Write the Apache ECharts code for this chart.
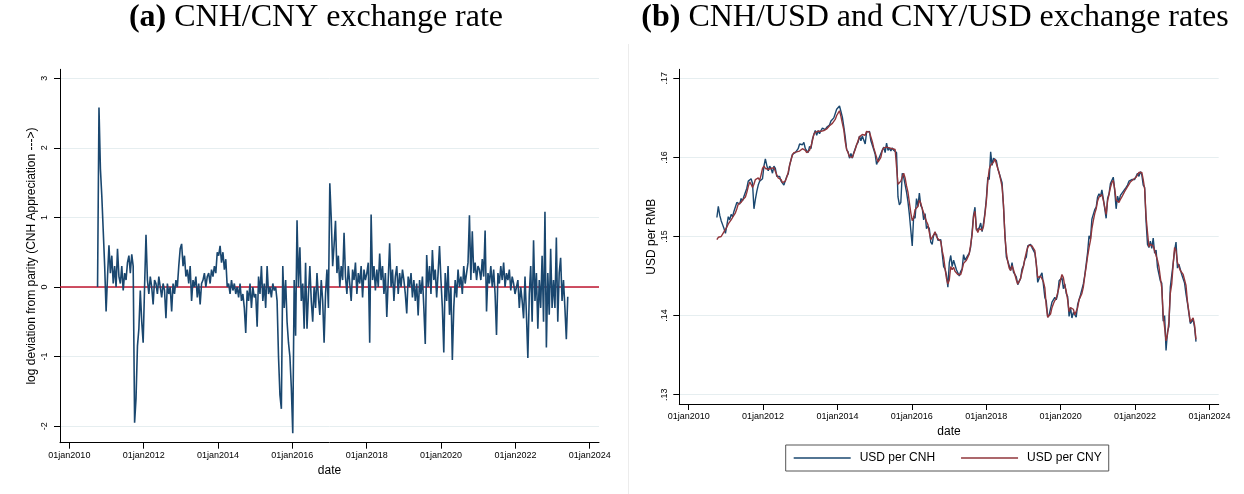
<!DOCTYPE html>
<html><head><meta charset="utf-8">
<script src="https://cdn.jsdelivr.net/npm/echarts@6/dist/echarts.min.js"></script>
<style>html,body{margin:0;padding:0;background:#fff}#c{width:1244px;height:494px}</style>
</head><body><div id="c"></div>
<script>
// ---- data ----
const startDate = [2010, 9, 5];   // first observation (UTC y, m0, d)
const stepDays = 14;              // sampling step of the series below
const xTickYears = [2010, 2012, 2014, 2016, 2018, 2020, 2022, 2024];
const devTicks = [-2, -1, 0, 1, 2, 3];
const usdTicks = [0.13, 0.14, 0.15, 0.16, 0.17];
const parityLevel = [0, 0];       // y = 0 reference line (parity)
const seriesNames = ['USD per CNH', 'USD per CNY'];

// (a) log deviation from parity, CNH vs CNY (x100)
const cnhCnyDev = [
0.0,2.58,1.7,1.3,0.8,0.3,-0.35,
0.15,0.6,0.2,0.45,0.05,0.3,0.0,0.55,0.15,0.05,0.3,-0.05,0.2,0.1,0.35,0.45,0.2,0.47,0.3,-1.95,-1.6,-0.85,-0.6,-0.05,-0.5,-0.8,
0.0,0.75,0.1,-0.1,0.15,0.0,-0.25,0.1,0.05,-0.1,0.15,0.0,-0.15,0.05,-0.05,-0.45,0.05,-0.1,0.0,-0.35,0.05,-0.1,0.1,0.0,0.3,0.55,
0.62,0.3,0.45,0.15,0.25,0.05,0.3,-0.2,0.1,0.0,0.15,-0.15,0.05,-0.25,0.05,0.1,0.2,0.0,0.15,0.2,0.05,0.25,0.15,0.3,0.2,0.5,
0.45,0.59,0.35,0.5,0.25,0.4,0.0,0.05,-0.1,0.1,-0.05,0.05,-0.1,0.0,-0.15,0.05,-0.2,-0.1,-0.3,-0.66,-0.05,-0.2,0.05,-0.3,0.0,-0.15,
-0.1,-0.57,0.15,-0.1,0.3,-0.2,0.05,-0.3,0.3,-0.1,0.0,-0.15,0.05,-0.05,0.0,-0.2,-1.0,-1.55,-1.75,0.3,-0.3,0.1,-0.5,-0.8,-1.0,-1.45,
-2.1,0.1,-0.7,0.96,0.0,0.57,-0.2,0.05,-0.6,0.35,-0.6,-0.1,0.3,-0.2,-0.5,0.0,-0.3,0.2,-0.15,-0.4,0.1,-0.2,-0.8,-0.1,0.25,-0.3,
1.49,0.99,0.3,0.6,0.95,0.2,0.45,0.0,0.3,0.1,0.78,0.15,-0.1,0.3,0.05,-0.2,0.25,0.1,0.35,-0.1,0.2,0.05,0.3,-0.15,0.25,0.1,
0.2,0.35,-0.8,1.04,0.1,0.3,-0.05,0.25,0.0,0.48,0.1,0.3,-0.1,0.2,-0.43,0.1,0.63,0.0,0.25,-0.2,0.15,0.3,-0.1,0.2,0.0,0.25,
0.1,-0.1,-0.38,0.15,0.0,0.2,-0.15,0.1,-0.2,0.05,-0.41,0.1,-0.1,0.15,-0.3,-0.82,0.46,0.0,0.3,-0.1,0.53,0.1,0.25,-0.15,0.2,0.59,
0.1,-0.3,-0.94,0.2,-0.2,0.3,-0.4,0.0,-1.05,-0.3,0.1,-0.15,0.25,0.0,0.15,-0.1,0.3,0.05,0.2,0.35,1.03,0.1,0.8,0.2,0.35,0.1,0.3,
0.25,0.1,0.4,0.15,0.81,-0.35,0.2,0.05,0.3,0.0,0.25,-0.1,-0.69,0.2,0.05,0.3,0.1,0.35,0.0,0.2,0.1,0.25,-0.05,0.15,0.05,-0.1,
-0.1,0.1,-0.3,0.0,-0.2,-0.45,0.15,-0.4,-1.02,-0.1,0.3,-0.5,0.67,-0.2,0.2,-0.6,0.1,-0.3,0.45,-0.5,1.08,-0.87,0.2,-0.4,0.55,-0.3,
0.1,-0.3,0.71,-0.5,0.2,0.42,-0.2,0.1,-0.3,-0.75,-0.14
];

// (b) USD per CNH
const usdPerCnh = [
0.1524,0.1538,0.1527,0.1520,0.1515,0.1510,0.1504,
0.1514,0.1525,0.1521,0.1528,0.1525,0.1532,0.1530,0.1543,0.1543,0.1541,0.1548,0.1545,0.1551,0.1552,0.1561,0.1570,0.1572,0.1573,0.1567,0.1535,0.1547,0.1557,0.1565,0.1570,0.1570,0.1573,
0.1589,0.1598,0.1590,0.1583,0.1589,0.1586,0.1580,0.1589,0.1586,0.1576,0.1576,0.1576,0.1570,0.1569,0.1565,0.1563,0.1576,0.1579,0.1590,0.1591,0.1604,0.1604,0.1606,0.1607,0.1611,0.1617,
0.1619,0.1616,0.1619,0.1611,0.1610,0.1606,0.1614,0.1611,0.1623,0.1629,0.1634,0.1628,0.1634,0.1630,0.1634,0.1637,0.1637,0.1635,0.1638,0.1640,0.1641,0.1646,0.1645,0.1650,0.1651,0.1661,
0.1663,0.1665,0.1658,0.1651,0.1639,0.1626,0.1610,0.1607,0.1599,0.1605,0.1599,0.1606,0.1608,0.1616,0.1619,0.1627,0.1621,0.1627,0.1625,0.1617,0.1632,0.1632,0.1633,0.1621,0.1620,0.1610,
0.1604,0.1591,0.1596,0.1594,0.1605,0.1606,0.1613,0.1606,0.1618,0.1609,0.1612,0.1608,0.1612,0.1609,0.1610,0.1606,0.1550,0.1540,0.1543,0.1580,0.1575,0.1576,0.1556,0.1544,0.1528,0.1508,
0.1488,0.1526,0.1523,0.1548,0.1538,0.1555,0.1539,0.1536,0.1521,0.1529,0.1510,0.1513,0.1510,0.1493,0.1490,0.1502,0.1501,0.1503,0.1495,0.1493,0.1496,0.1479,0.1462,0.1459,0.1451,0.1436,
0.1467,0.1476,0.1462,0.1470,0.1470,0.1458,0.1459,0.1450,0.1456,0.1459,0.1477,0.1470,0.1469,0.1476,0.1479,0.1487,0.1506,0.1527,0.1537,0.1508,0.1508,0.1511,0.1517,0.1506,0.1517,0.1530,
0.1548,0.1575,0.1572,0.1607,0.1590,0.1599,0.1597,0.1596,0.1586,0.1588,0.1574,0.1568,0.1538,0.1503,0.1474,0.1469,0.1469,0.1457,0.1467,0.1455,0.1454,0.1449,0.1439,0.1441,0.1447,0.1459,
0.1463,0.1471,0.1474,0.1488,0.1489,0.1490,0.1486,0.1486,0.1479,0.1466,0.1442,0.1447,0.1449,0.1454,0.1439,0.1423,0.1418,0.1398,0.1401,0.1401,0.1417,0.1416,0.1423,0.1420,0.1427,0.1444,
0.1446,0.1448,0.1434,0.1440,0.1428,0.1424,0.1399,0.1410,0.1397,0.1404,0.1402,0.1398,0.1414,0.1420,0.1426,0.1427,0.1440,0.1451,0.1465,0.1480,0.1501,0.1497,0.1522,0.1523,0.1534,0.1537,0.1550,
0.1554,0.1550,0.1559,0.1548,0.1549,0.1523,0.1548,0.1554,0.1567,0.1568,0.1575,0.1558,0.1535,0.1551,0.1544,0.1552,0.1552,0.1557,0.1557,0.1562,0.1565,0.1570,0.1568,0.1572,0.1573,0.1572,
0.1573,0.1580,0.1576,0.1582,0.1578,0.1565,0.1562,0.1519,0.1490,0.1486,0.1494,0.1485,0.1498,0.1479,0.1483,0.1461,0.1463,0.1444,0.1441,0.1393,0.1400,0.1356,0.1379,0.1386,0.1436,0.1436,
0.1466,0.1482,0.1493,0.1460,0.1465,0.1463,0.1452,0.1453,0.1441,0.1427,0.1416,0.1403,0.1390,0.1391,0.1395,0.1385,0.1367
];

// (b) USD per CNY
const usdPerCny = [
0.1496,0.1499,0.1501,0.1500,0.1503,0.1505,0.1509,
0.1512,0.1516,0.1518,0.1521,0.1524,0.1527,0.1530,0.1535,0.1541,0.1540,0.1543,0.1546,0.1548,0.1550,0.1556,0.1563,0.1569,0.1566,0.1562,0.1566,0.1572,0.1570,0.1574,0.1571,0.1578,0.1586,
0.1589,0.1586,0.1588,0.1585,0.1587,0.1586,0.1584,0.1587,0.1585,0.1578,0.1574,0.1576,0.1572,0.1568,0.1566,0.1570,0.1575,0.1581,0.1590,0.1597,0.1603,0.1606,0.1604,0.1607,0.1606,0.1608,
0.1609,0.1611,0.1612,0.1609,0.1606,0.1605,0.1609,0.1614,0.1621,0.1629,0.1632,0.1630,0.1633,0.1634,0.1633,0.1635,0.1634,0.1635,0.1636,0.1637,0.1640,0.1642,0.1643,0.1645,0.1648,0.1653,
0.1656,0.1659,0.1652,0.1643,0.1635,0.1620,0.1610,0.1606,0.1601,0.1603,0.1600,0.1605,0.1610,0.1616,0.1621,0.1626,0.1624,0.1629,0.1630,0.1628,0.1633,0.1635,0.1632,0.1626,0.1620,0.1612,
0.1606,0.1600,0.1594,0.1596,0.1600,0.1609,0.1612,0.1611,0.1613,0.1611,0.1612,0.1610,0.1611,0.1610,0.1610,0.1609,0.1566,0.1564,0.1570,0.1575,0.1580,0.1574,0.1564,0.1556,0.1543,0.1530,
0.1520,0.1524,0.1534,0.1533,0.1538,0.1546,0.1542,0.1535,0.1530,0.1524,0.1519,0.1515,0.1505,0.1496,0.1497,0.1502,0.1506,0.1500,0.1497,0.1499,0.1494,0.1482,0.1474,0.1460,0.1447,0.1440,
0.1445,0.1462,0.1458,0.1461,0.1456,0.1455,0.1452,0.1450,0.1452,0.1458,0.1466,0.1468,0.1470,0.1472,0.1478,0.1490,0.1502,0.1525,0.1532,0.1510,0.1505,0.1510,0.1512,0.1508,0.1513,0.1528,
0.1545,0.1570,0.1585,0.1590,0.1588,0.1594,0.1598,0.1592,0.1586,0.1580,0.1572,0.1563,0.1540,0.1500,0.1480,0.1468,0.1460,0.1457,0.1463,0.1458,0.1452,0.1445,0.1440,0.1438,0.1447,0.1455,
0.1462,0.1472,0.1480,0.1486,0.1489,0.1487,0.1488,0.1485,0.1482,0.1465,0.1448,0.1446,0.1450,0.1452,0.1443,0.1435,0.1412,0.1398,0.1397,0.1402,0.1410,0.1415,0.1419,0.1422,0.1424,0.1436,
0.1445,0.1452,0.1448,0.1437,0.1431,0.1420,0.1405,0.1410,0.1412,0.1408,0.1401,0.1400,0.1410,0.1420,0.1424,0.1428,0.1436,0.1450,0.1462,0.1475,0.1486,0.1495,0.1510,0.1520,0.1529,0.1535,0.1545,
0.1550,0.1548,0.1553,0.1546,0.1537,0.1528,0.1545,0.1553,0.1562,0.1568,0.1571,0.1560,0.1546,0.1548,0.1543,0.1547,0.1550,0.1552,0.1557,0.1559,0.1563,0.1566,0.1569,0.1570,0.1572,0.1574,
0.1575,0.1578,0.1581,0.1582,0.1581,0.1572,0.1560,0.1525,0.1505,0.1487,0.1490,0.1492,0.1488,0.1482,0.1480,0.1470,0.1462,0.1448,0.1435,0.1400,0.1385,0.1368,0.1376,0.1392,0.1428,0.1440,
0.1465,0.1486,0.1482,0.1467,0.1462,0.1457,0.1455,0.1452,0.1445,0.1438,0.1418,0.1405,0.1392,0.1394,0.1397,0.1388,0.1370
];

// ---- build ----
const DAY = 86400000;
const t0 = Date.UTC(startDate[0], startDate[1], startDate[2]);
const pairs = arr => arr.map((v, i) => [t0 + i * stepDays * DAY, v]);
const xTicks = xTickYears.map(y => Date.UTC(y, 0, 1));
const xMin = Date.UTC(2009, 9, 1), xMax = Date.UTC(2024, 3, 1);

const SANS = "'Liberation Sans', Arial, sans-serif";
const SERIF = "'Liberation Serif', 'Times New Roman', serif";
const NAVY = '#1a476f', MAROON = '#90353b', ZERO = '#c0142f', GRID = '#e6eef0';

function xAxisCfg(gridIndex, margin) {
  return {
    type: 'value', gridIndex, min: xMin, max: xMax, scale: true,
    name: 'date', nameLocation: 'middle', nameGap: 19,
    nameTextStyle: { fontFamily: SANS, fontSize: 12, color: '#000', verticalAlign: 'top' },
    axisLine: { show: true, onZero: false, lineStyle: { color: '#000', width: 1 } },
    axisTick: { show: true, length: 6, lineStyle: { color: '#000', width: 1 }, customValues: xTicks },
    axisLabel: { show: true, margin, fontFamily: SANS, fontSize: 9, color: '#000', customValues: xTicks,
      formatter: v => '01jan' + new Date(v).getUTCFullYear(), hideOverlap: false, showMinLabel: true, showMaxLabel: true },
    splitLine: { show: false }, minorTick: { show: false }
  };
}
function yAxisCfg(gridIndex, min, max, ticks, name, fmt, margin) {
  return {
    type: 'value', gridIndex, min, max, scale: true,
    name, nameLocation: 'middle', nameGap: 22,
    nameTextStyle: { fontFamily: SANS, fontSize: 12, color: '#000' },
    axisLine: { show: true, onZero: false, lineStyle: { color: '#000', width: 1 } },
    axisTick: { show: true, length: 6, lineStyle: { color: '#000', width: 1 }, customValues: ticks },
    axisLabel: { show: true, rotate: 90, margin, fontFamily: SANS, fontSize: 9, color: '#000', customValues: ticks, formatter: fmt },
    splitLine: { show: true, lineStyle: { color: GRID, width: 1 } }
  };
}

const chart = echarts.init(document.getElementById('c'), null, { renderer: 'canvas' });
chart.setOption({
  animation: false,
  backgroundColor: '#fff',
  title: [
    { text: '{b|(a)} CNH/CNY exchange rate', left: 316, top: 2, textAlign: 'center', padding: 0,
      textStyle: { fontFamily: SERIF, fontSize: 32, fontWeight: 'normal', color: '#000',
        rich: { b: { fontFamily: SERIF, fontSize: 32, fontWeight: 'bold', color: '#000' } } } },
    { text: '{b|(b)} CNH/USD and CNY/USD exchange rates', left: 935, top: 2, textAlign: 'center', padding: 0,
      textStyle: { fontFamily: SERIF, fontSize: 32, fontWeight: 'normal', color: '#000',
        rich: { b: { fontFamily: SERIF, fontSize: 32, fontWeight: 'bold', color: '#000' } } } }
  ],
  graphic: [
    { type: 'line', shape: { x1: 628.5, y1: 44, x2: 628.5, y2: 494 }, style: { stroke: '#ececec', lineWidth: 1 }, silent: true }
  ],
  grid: [
    { left: 60, top: 69.3, width: 539, height: 373.4, outerBoundsMode: 'none', containLabel: false },
    { left: 679.3, top: 69.3, width: 539.4, height: 334.7, outerBoundsMode: 'none', containLabel: false }
  ],
  xAxis: [ xAxisCfg(0, 8), xAxisCfg(1, 8) ],
  yAxis: [
    yAxisCfg(0, -2.237, 3.128, devTicks, 'log deviation from parity (CNH Appreciation --->)', v => String(v), 11),
    yAxisCfg(1, 0.12882, 0.17114, usdTicks, 'USD per RMB', v => v.toFixed(2).replace(/^0/, ''), 10.5)
  ],
  legend: {
    data: seriesNames, left: 785.7, top: 445, orient: 'horizontal',
    padding: [7, 7, 7, 7], itemWidth: 57, itemHeight: 14, itemGap: 25,
    borderColor: '#555', borderWidth: 1, borderRadius: 0, backgroundColor: '#fff',
    itemStyle: { opacity: 0 }, lineStyle: { width: 2, opacity: 0.75 },
    textStyle: { fontFamily: SANS, fontSize: 12, color: '#000', padding: [0, 0, 0, 4] },
    selectedMode: false
  },
  series: [
    { type: 'line', name: 'parity', xAxisIndex: 0, yAxisIndex: 0, data: [[xMin, parityLevel[0]], [xMax, parityLevel[1]]],
      symbol: 'none', showSymbol: false, silent: true, lineStyle: { color: ZERO, width: 1.3 }, itemStyle: { color: ZERO }, z: 1 },
    { type: 'line', name: 'dev', xAxisIndex: 0, yAxisIndex: 0, data: pairs(cnhCnyDev),
      symbol: 'none', showSymbol: false, lineStyle: { color: NAVY, width: 1.6 }, itemStyle: { color: NAVY }, z: 3 },
    { type: 'line', name: seriesNames[0], xAxisIndex: 1, yAxisIndex: 1, data: pairs(usdPerCnh),
      symbol: 'none', showSymbol: false, lineStyle: { color: NAVY, width: 1.4 }, itemStyle: { color: NAVY }, z: 2 },
    { type: 'line', name: seriesNames[1], xAxisIndex: 1, yAxisIndex: 1, data: pairs(usdPerCny),
      symbol: 'none', showSymbol: false, lineStyle: { color: MAROON, width: 1.4 }, itemStyle: { color: MAROON }, z: 3 }
  ]
});
</script></body></html>
